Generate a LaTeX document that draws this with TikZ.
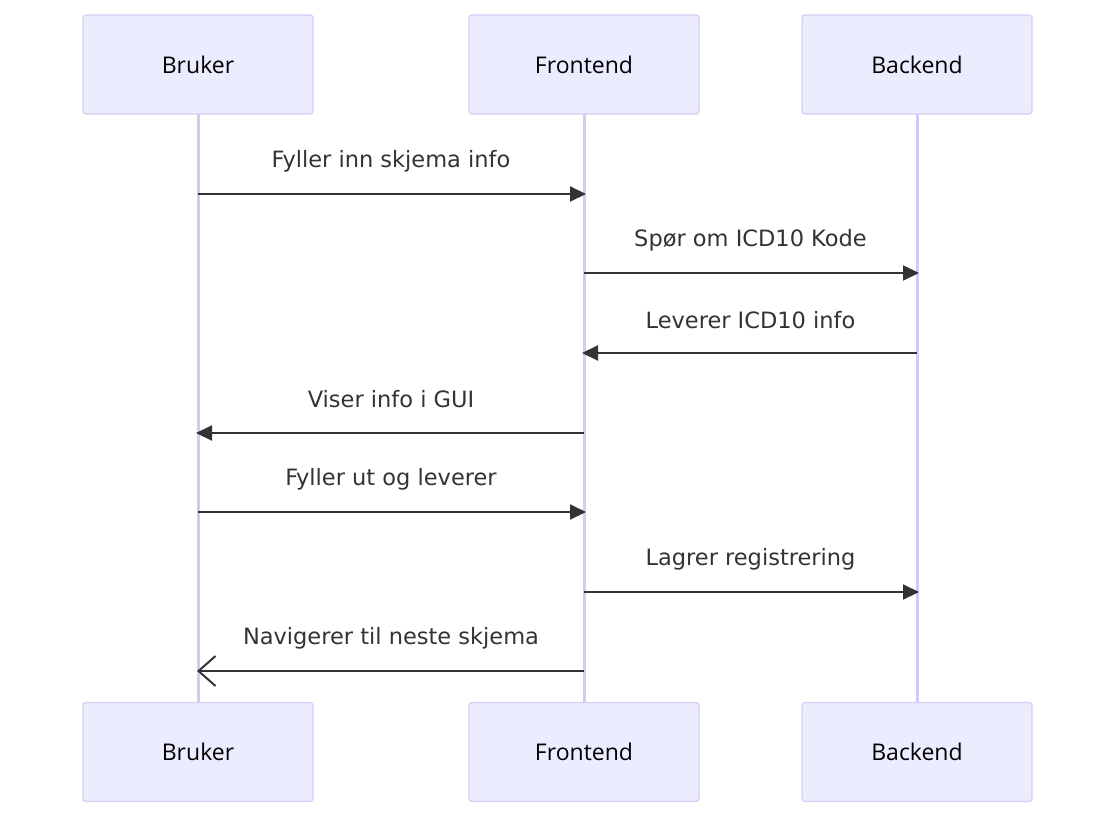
\documentclass[tikz,border=0pt]{standalone}
\usepackage{fontspec}
\setmainfont{DejaVu Sans}
\newfontfamily\actorfont{Open Sans}
\usetikzlibrary{arrows.meta}
\definecolor{actfill}{HTML}{ECECFF}
\definecolor{actdraw}{HTML}{D8CEF5}
\definecolor{life}{HTML}{D4CAF5}
\definecolor{msg}{HTML}{333333}
\tikzset{
  actor/.style={draw=actdraw, fill=actfill, line width=1.3pt, rounded corners=3pt,
    minimum width=230pt, minimum height=99pt, inner sep=0pt,
    font=\actorfont\fontsize{23}{26}\selectfont, text=black},
  lifeline/.style={draw=life, line width=3pt},
  message/.style={draw=msg, line width=2pt, -{Triangle[length=16pt,width=15pt]}, shorten >=-2pt},
  openmsg/.style={draw=msg, line width=2pt, -{Straight Barb[length=17pt,width=30pt,line width=2pt]}, shorten >=-1pt},
  lbl/.style={font=\fontsize{22.5}{26}\selectfont, text=msg, inner sep=0pt}
}
\begin{document}
\begin{tikzpicture}[x=1pt,y=-1pt]
\useasboundingbox (0,0) rectangle (1116,819);
% lifelines
\coordinate (bt) at (198,114); \coordinate (bb) at (198,703);
\coordinate (ft) at (584,114); \coordinate (fb) at (584,703);
\coordinate (kt) at (917,114); \coordinate (kb) at (917,703);
\draw[lifeline] (bt) -- (bb);
\draw[lifeline] (ft) -- (fb);
\draw[lifeline] (kt) -- (kb);
% actors
\node[actor] (b1) at (198,64.5) {Bruker};
\node[actor] (f1) at (584,64.5) {Frontend};
\node[actor] (k1) at (917,64.5) {Backend};
\node[actor] (b2) at (198,752) {Bruker};
\node[actor] (f2) at (584,752) {Frontend};
\node[actor] (k2) at (917,752) {Backend};
% message anchors
\foreach \n/\y in {1/194,2/273,3/353,4/433,5/512,6/592,7/671}{
  \coordinate (B\n) at (198,\y);
  \coordinate (F\n) at (584,\y);
  \coordinate (K\n) at (917,\y);
}
\draw[message] (B1) -- (F1);
\node[lbl] (l1) at (391,161) {Fyller inn skjema info};
\draw[message] (F2) -- (K2);
\node[lbl] (l2) at (750.5,240) {Spør om ICD10 Kode};
\draw[message] (K3) -- (F3);
\node[lbl] (l3) at (750.5,320) {Leverer ICD10 info};
\draw[message] (F4) -- (B4);
\node[lbl] (l4) at (391,399) {Viser info i GUI};
\draw[message] (B5) -- (F5);
\node[lbl] (l5) at (391,479) {Fyller ut og leverer};
\draw[message] (F6) -- (K6);
\node[lbl] (l6) at (750.5,559) {Lagrer registrering};
\draw[openmsg] (F7) -- (B7);
\node[lbl] (l7) at (391,638) {Navigerer til neste skjema};
\end{tikzpicture}
\end{document}
